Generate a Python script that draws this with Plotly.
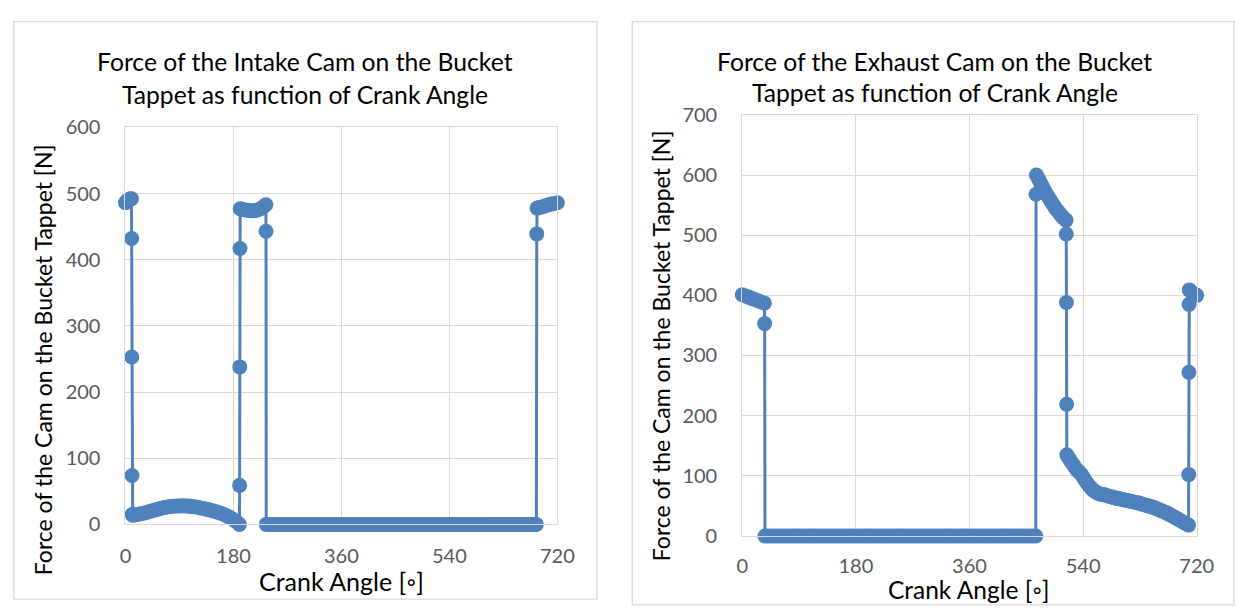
import plotly.graph_objects as go

# ---- Intake cam: crank angle [deg] and force [N] ----
intake_angle = [
    0, 2, 4, 6, 8, 10,
    10.3, 10.6, 10.9, 11.2,
    12, 15, 20, 25, 30, 35, 40, 45, 50, 55, 60, 65, 70, 75, 80, 85, 90, 95,
    100, 105, 110, 115, 120, 125, 130, 135, 140, 145, 150, 155, 160, 165, 170, 175,
    180, 185, 190,
    190.3, 190.6, 190.9, 191.2,
    195, 200, 205, 210, 215, 220, 225, 230, 234,
    234.3, 234.6,
    240, 245, 250, 255, 260, 265, 270, 275, 280, 285, 290, 295, 300, 305, 310, 315,
    320, 325, 330, 335, 340, 345, 350, 355, 360, 365, 370, 375, 380, 385, 390, 395,
    400, 405, 410, 415, 420, 425, 430, 435, 440, 445, 450, 455, 460, 465, 470, 475,
    480, 485, 490, 495, 500, 505, 510, 515, 520, 525, 530, 535, 540, 545, 550, 555,
    560, 565, 570, 575, 580, 585, 590, 595, 600, 605, 610, 615, 620, 625, 630, 635,
    640, 645, 650, 655, 660, 665, 670, 675, 680, 685,
    685.6, 686.2,
    690, 695, 700, 705, 710, 715, 720,
]
intake_force = [
    486, 488, 490, 491, 492, 492,
    432, 253, 74, 15,
    14, 14.2, 15, 16, 17, 18.2, 19.5, 20.8, 22, 23.3, 24.5, 25.5, 26.3, 27, 27.5, 27.8, 28, 28.1,
    28, 27.7, 27.3, 26.7, 26, 25, 24, 23, 22, 20.8, 19.5, 18, 16.5, 14.6, 12.5, 10,
    7, 4, 0,
    59, 238, 417, 477,
    476, 475, 474.5, 474, 474, 475, 477, 480, 483,
    443, 0,
    0, 0, 0, 0, 0, 0, 0, 0, 0, 0, 0, 0, 0, 0, 0, 0,
    0, 0, 0, 0, 0, 0, 0, 0, 0, 0, 0, 0, 0, 0, 0, 0,
    0, 0, 0, 0, 0, 0, 0, 0, 0, 0, 0, 0, 0, 0, 0, 0,
    0, 0, 0, 0, 0, 0, 0, 0, 0, 0, 0, 0, 0, 0, 0, 0,
    0, 0, 0, 0, 0, 0, 0, 0, 0, 0, 0, 0, 0, 0, 0, 0,
    0, 0, 0, 0, 0, 0, 0, 0, 0, 0,
    439, 478,
    479, 480, 481.5, 483, 484, 485, 486,
]

# ---- Exhaust cam: crank angle [deg] and force [N] ----
exhaust_angle = [
    0, 5, 10, 15, 20, 25, 30, 35,
    35.5, 36,
    40, 45, 50, 55, 60, 65, 70, 75, 80, 85, 90, 95, 100, 105, 110, 115,
    120, 125, 130, 135, 140, 145, 150, 155, 160, 165, 170, 175, 180, 185, 190, 195,
    200, 205, 210, 215, 220, 225, 230, 235, 240, 245, 250, 255, 260, 265, 270, 275,
    280, 285, 290, 295, 300, 305, 310, 315, 320, 325, 330, 335, 340, 345, 350, 355,
    360, 365, 370, 375, 380, 385, 390, 395, 400, 405, 410, 415, 420, 425, 430, 435,
    440, 445, 450, 455, 460, 465,
    465.5, 466,
    469, 472, 475, 478, 481, 484, 487, 490, 493, 496, 500, 503, 506, 509, 513,
    513.3, 513.6, 513.9, 514.2,
    517, 520, 523, 526, 530, 533, 537, 540, 543, 546, 549, 552, 555, 558, 562, 565,
    568, 572, 575, 578, 581, 585, 588, 591, 594, 598, 601, 604, 607, 611, 614, 617,
    620, 624, 627, 630, 633, 637, 640, 643, 646, 650, 653, 656, 660, 663, 666, 670,
    673, 676, 679, 682, 686, 689, 692, 696, 700, 704, 707,
    707.3, 707.6, 707.9, 708.2,
    712, 716, 720,
]
exhaust_force = [
    401, 399, 397, 395, 393, 391, 389, 387,
    353, 0,
    0, 0, 0, 0, 0, 0, 0, 0, 0, 0, 0, 0, 0, 0, 0, 0,
    0, 0, 0, 0, 0, 0, 0, 0, 0, 0, 0, 0, 0, 0, 0, 0,
    0, 0, 0, 0, 0, 0, 0, 0, 0, 0, 0, 0, 0, 0, 0, 0,
    0, 0, 0, 0, 0, 0, 0, 0, 0, 0, 0, 0, 0, 0, 0, 0,
    0, 0, 0, 0, 0, 0, 0, 0, 0, 0, 0, 0, 0, 0, 0, 0,
    0, 0, 0, 0, 0, 0,
    568, 600,
    594, 588, 582, 576, 570, 565, 560, 555, 550, 545, 540, 536, 532, 528.5, 525,
    502, 388, 219, 135,
    130, 125, 120.5, 116, 110, 107, 103, 98, 93, 88.5, 84, 80.5, 77, 74.5, 72, 70.5,
    69.5, 68.7, 68, 67, 66, 65, 64, 63.2, 62.5, 61.7, 61, 60.2, 59.5, 58.7, 58, 57.2,
    56.5, 55.7, 55, 54, 53, 52, 51, 50, 49, 48, 47, 45.5, 44, 42.5, 41, 39.5,
    38, 36.3, 34.5, 32.7, 30.5, 28.8, 27, 24.5, 22, 19.8, 18,
    102, 272, 385, 409,
    405, 402, 400,
]

angle_ticks = [0, 180, 360, 540, 720]

W, H = 1253, 612
BLUE = "#4f81bd"
GRID = "#d9d9d9"
TICK_GRAY = "#595959"
FONT = "Lato"


def fx(p):
    return p / W


def fy(p):
    return 1 - p / H


fig = go.Figure()

for name, xs, ys, xa, ya in [
    ("Intake", intake_angle, intake_force, "x", "y"),
    ("Exhaust", exhaust_angle, exhaust_force, "x2", "y2"),
]:
    fig.add_trace(go.Scatter(
        x=xs, y=ys, name=name, xaxis=xa, yaxis=ya,
        mode="lines+markers",
        line=dict(color=BLUE, width=3),
        marker=dict(color=BLUE, size=15, line=dict(width=0)),
        showlegend=False, cliponaxis=False,
    ))

axis_common = dict(
    showgrid=True, gridcolor=GRID, gridwidth=1,
    showline=True, linecolor=GRID, linewidth=1, mirror=True,
    zeroline=False, ticks="",
    tickfont=dict(family=FONT, size=20, color=TICK_GRAY),
    fixedrange=True,
)

fig.update_layout(
    width=W, height=H, autosize=False,
    margin=dict(l=0, r=0, t=0, b=0),
    paper_bgcolor="white", plot_bgcolor="white",
    xaxis=dict(domain=[fx(121.7), fx(561.7)], range=[0, 720], tickvals=angle_ticks,
               anchor="y", ticklabelstandoff=14, **axis_common),
    yaxis=dict(domain=[fy(532.3), fy(119)], range=[0, 600], dtick=100,
               anchor="x", ticklabelstandoff=20, **axis_common),
    xaxis2=dict(domain=[fx(750), fx(1213)], range=[0, 720], tickvals=angle_ticks,
                anchor="y2", ticklabelstandoff=12, **axis_common),
    yaxis2=dict(domain=[fy(544.3), fy(106)], range=[0, 700], dtick=100,
                anchor="x2", ticklabelstandoff=20, **axis_common),
)

# chart-area frames
for x0, y0, x1, y1 in [(8, 9, 602, 610), (638, 9, 1251, 616)]:
    fig.add_shape(type="rect", xref="paper", yref="paper",
                  x0=fx(x0), x1=fx(x1), y0=fy(y1), y1=fy(y0),
                  line=dict(color=GRID, width=1.3), fillcolor="rgba(0,0,0,0)",
                  layer="below")


def text(x, y, s, size, angle=0):
    fig.add_annotation(x=fx(x), y=fy(y), xref="paper", yref="paper", text=s,
                       showarrow=False, xanchor="center", yanchor="middle",
                       textangle=angle,
                       font=dict(family=FONT, size=size, color="#000000"))


# chart titles
text(305, 50, "Force of the Intake Cam on the Bucket", 24.7)
text(305, 85, "Tappet as function of Crank Angle", 24.7)
text(946, 50, "Force of the Exhaust Cam on the Bucket", 24.7)
text(946, 83, "Tappet as function of Crank Angle", 24.7)

# axis titles
text(341.5, 591, "Crank Angle [◦]", 25)
text(980.5, 600, "Crank Angle [◦]", 24.5)
text(38, 361, "Force of the Cam on the Bucket Tappet [N]", 23, -90)
text(668, 346, "Force of the Cam on the Bucket Tappet [N]", 23, -90)

fig.write_html("out.html")
